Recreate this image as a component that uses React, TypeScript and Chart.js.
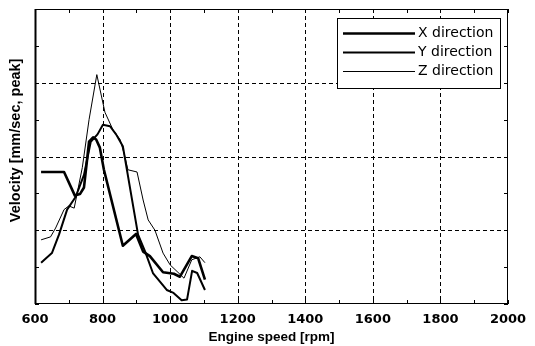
import React, { useEffect, useRef } from 'react';
import { Chart, registerables } from 'chart.js';

Chart.register(...registerables);

// ---- data ----
const xTickValues = [600, 800, 1000, 1200, 1400, 1600, 1800, 2000];
const seriesLabels = ['X direction', 'Y direction', 'Z direction'];

const xDirRpm = [618, 686, 718, 733, 745, 760, 772, 781, 792, 804, 860, 899, 920, 940, 979, 1011, 1029, 1064, 1083, 1103];
const xDirVel = [1.79, 1.79, 1.47, 1.49, 1.58, 2.2, 2.26, 2.23, 2.12, 1.82, 0.79, 0.95, 0.71, 0.65, 0.43, 0.41, 0.37, 0.65, 0.62, 0.33];

const yDirRpm = [618, 650, 671, 695, 720, 745, 765, 785, 801, 822, 840, 860, 905, 926, 949, 990, 1010, 1034, 1050, 1065, 1080, 1103];
const yDirVel = [0.56, 0.69, 0.94, 1.28, 1.45, 1.75, 2.2, 2.3, 2.43, 2.41, 2.3, 2.14, 0.94, 0.71, 0.42, 0.19, 0.15, 0.05, 0.06, 0.45, 0.42, 0.19];

const zDirRpm = [618, 646, 661, 686, 700, 716, 740, 760, 783, 807, 831, 852, 866, 875, 902, 920, 935, 955, 979, 1000, 1023, 1041, 1064, 1088, 1103];
const zDirVel = [0.87, 0.91, 1.03, 1.28, 1.33, 1.3, 1.85, 2.5, 3.11, 2.6, 2.36, 2.23, 2.0, 1.82, 1.79, 1.41, 1.14, 1.0, 0.69, 0.53, 0.43, 0.35, 0.6, 0.64, 0.56];

const lineWidths = [2.6, 2.0, 1.0];

const toPoints = (xs: number[], ys: number[]) => xs.map((x, i) => ({ x, y: ys[i] }));

const framePlugin = {
  id: 'frame',
  beforeDatasetsDraw(chart: any) {
    const { ctx, chartArea: a, scales } = chart;
    const xs = scales.x;
    const ys = scales.y;
    ctx.save();
    ctx.strokeStyle = '#000';
    ctx.lineWidth = 1;
    ctx.setLineDash([4, 3]);
    for (const v of xTickValues) {
      if (v === xs.min || v === xs.max) continue;
      const px = Math.round(xs.getPixelForValue(v)) + 0.5;
      ctx.beginPath();
      ctx.moveTo(px, a.top);
      ctx.lineTo(px, a.bottom);
      ctx.stroke();
    }
    for (let v = ys.min + 1; v < ys.max; v += 1) {
      const py = Math.round(ys.getPixelForValue(v)) + 0.5;
      ctx.beginPath();
      ctx.moveTo(a.left, py);
      ctx.lineTo(a.right, py);
      ctx.stroke();
    }
    ctx.setLineDash([]);
    // minor inside tick marks
    for (let v = xs.min; v <= xs.max; v += 100) {
      const px = Math.round(xs.getPixelForValue(v)) + 0.5;
      ctx.beginPath();
      ctx.moveTo(px, a.bottom);
      ctx.lineTo(px, a.bottom - 4);
      ctx.moveTo(px, a.top);
      ctx.lineTo(px, a.top + 4);
      ctx.stroke();
    }
    for (let v = ys.min; v <= ys.max; v += 0.5) {
      const py = Math.round(ys.getPixelForValue(v)) + 0.5;
      ctx.beginPath();
      ctx.moveTo(a.left, py);
      ctx.lineTo(a.left + 4, py);
      ctx.moveTo(a.right, py);
      ctx.lineTo(a.right - 4, py);
      ctx.stroke();
    }
    ctx.restore();
  },
  afterDatasetsDraw(chart: any) {
    const { ctx, chartArea: a } = chart;
    ctx.save();
    ctx.strokeStyle = '#000';
    ctx.lineWidth = 1;
    ctx.strokeRect(a.left + 0.5, a.top + 0.5, a.right - a.left - 1, a.bottom - a.top - 1);
    ctx.lineWidth = 2;
    ctx.beginPath();
    ctx.moveTo(a.left + 0.5, a.top);
    ctx.lineTo(a.left + 0.5, a.bottom);
    ctx.stroke();

    // legend
    const bx = 337, by = 18, bw = 163, bh = 70;
    ctx.fillStyle = '#fff';
    ctx.fillRect(bx, by, bw, bh);
    ctx.lineWidth = 1;
    ctx.strokeRect(bx + 0.5, by + 0.5, bw, bh);
    ctx.font = '14px "DejaVu Sans"';
    ctx.textBaseline = 'middle';
    ctx.textAlign = 'left';
    chart.data.datasets.forEach((ds: any, i: number) => {
      const y = by + 15 + i * 19;
      ctx.strokeStyle = ds.borderColor;
      ctx.lineWidth = ds.borderWidth;
      ctx.beginPath();
      ctx.moveTo(343, y + 0.5);
      ctx.lineTo(415, y + 0.5);
      ctx.stroke();
      ctx.fillStyle = '#000';
      ctx.fillText(ds.label, 418, y);
    });
    ctx.restore();
  },
};

export default function App() {
  const ref = useRef<HTMLCanvasElement>(null);
  useEffect(() => {
    if (!ref.current) return;
    const chart = new Chart(ref.current, {
      type: 'line',
      data: {
        datasets: [
          { label: seriesLabels[0], data: toPoints(xDirRpm, xDirVel), borderColor: '#000', borderWidth: lineWidths[0] },
          { label: seriesLabels[1], data: toPoints(yDirRpm, yDirVel), borderColor: '#000', borderWidth: lineWidths[1] },
          { label: seriesLabels[2], data: toPoints(zDirRpm, zDirVel), borderColor: '#000', borderWidth: lineWidths[2] },
        ],
      },
      options: {
        animation: false,
        responsive: false,
        devicePixelRatio: 1,
        layout: { padding: { left: 0, right: 27, top: 9, bottom: 0 } },
        elements: { point: { radius: 0 }, line: { tension: 0, borderJoinStyle: 'round' } },
        plugins: { legend: { display: false }, tooltip: { enabled: false } },
        scales: {
          x: {
            type: 'linear',
            min: 600,
            max: 2000,
            afterBuildTicks: (s: any) => {
              s.ticks = xTickValues.map((v) => ({ value: v }));
            },
            afterFit: (s: any) => {
              s.height = 42;
            },
            grid: { display: false, drawTicks: false },
            border: { display: false },
            ticks: {
              color: '#000',
              padding: 8,
              maxRotation: 0,
              autoSkip: false,
              callback: (v: any) => String(v),
              font: { family: '"DejaVu Sans"', weight: 'bold', size: 13 },
            },
            title: {
              display: true,
              text: 'Engine speed [rpm]',
              color: '#000',
              padding: { top: 0, bottom: 1 },
              font: { family: '"Liberation Sans"', weight: 'bold', size: 13.5 },
            },
          },
          y: {
            type: 'linear',
            min: 0,
            max: 4,
            afterFit: (s: any) => {
              s.width = 35;
            },
            grid: { display: false, drawTicks: false },
            border: { display: false },
            ticks: { display: false, stepSize: 1 },
            title: {
              display: true,
              text: '        Velocity [mm/sec, peak]',
              color: '#000',
              padding: { top: 7, bottom: 0 },
              font: { family: '"Liberation Sans"', weight: 'bold', size: 14.5 },
            },
          },
        },
      },
      plugins: [framePlugin],
    } as any);
    return () => chart.destroy();
  }, []);
  return (
    <div style={{ position: 'fixed', left: 0, top: 0, width: 535, height: 346, background: '#fff' }}>
      <canvas ref={ref} width={535} height={346} style={{ display: 'block' }} />
    </div>
  );
}
